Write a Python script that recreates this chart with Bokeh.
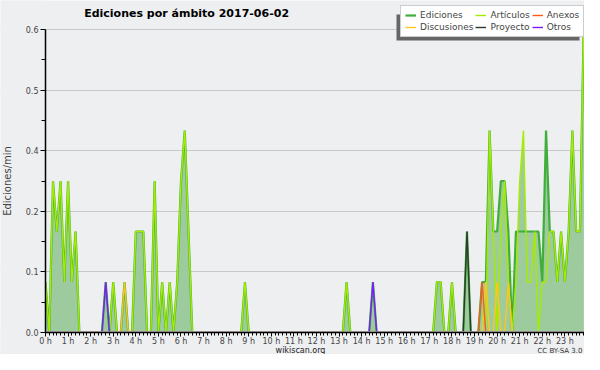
from bokeh.plotting import figure
from bokeh.models import (Range1d, FixedTicker, PrintfTickFormatter, Legend, LegendItem,
                          Label, BoxAnnotation)
from bokeh.embed import file_html
from bokeh.resources import INLINE

# ---- data: edits per minute in 10-minute bins (6 per hour), 2017-06-02 ----
BINS_PER_HOUR = 6

ediciones = [
    0.1, 0, 0.3, 0.2, 0.3, 0.1, 0.3, 0.1, 0.2, 0, 0, 0,          # 0h-2h
    0, 0, 0, 0, 0.1, 0, 0.1, 0, 0, 0.1, 0, 0,                    # 2h-4h
    0.2, 0.2, 0.2, 0, 0, 0.3, 0, 0.1, 0, 0.1, 0, 0.1,            # 4h-6h
    0.3, 0.4, 0.2, 0, 0, 0, 0, 0, 0, 0, 0, 0,                    # 6h-8h
    0, 0, 0, 0, 0, 0.1, 0, 0, 0, 0, 0, 0,                        # 8h-10h
    0, 0, 0, 0, 0, 0, 0, 0, 0, 0, 0, 0,                          # 10h-12h
    0, 0, 0, 0, 0, 0, 0, 0, 0.1, 0, 0, 0,                        # 12h-14h
    0, 0, 0, 0.1, 0, 0, 0, 0, 0, 0, 0, 0,                        # 14h-16h
    0, 0, 0, 0, 0, 0, 0, 0, 0.1, 0.1, 0, 0,                      # 16h-18h
    0.1, 0, 0, 0, 0.2, 0, 0, 0, 0.1, 0.1, 0.4, 0.2,              # 18h-20h
    0.2, 0.3, 0.3, 0.2, 0, 0.2, 0.2, 0.2, 0.2, 0.2, 0.2, 0.2,    # 20h-22h
    0.1, 0.4, 0.2, 0.2, 0.1, 0.2, 0.1, 0.2, 0.4, 0.2, 0.2, 0.6,  # 22h-24h
]

articulos = [
    0.1, 0, 0.3, 0.2, 0.3, 0.1, 0.3, 0.1, 0.2, 0, 0, 0,
    0, 0, 0, 0, 0, 0, 0.1, 0, 0, 0, 0, 0,
    0.2, 0.2, 0.2, 0, 0, 0.3, 0, 0.1, 0, 0.1, 0, 0.1,
    0.3, 0.4, 0.2, 0, 0, 0, 0, 0, 0, 0, 0, 0,
    0, 0, 0, 0, 0, 0.1, 0, 0, 0, 0, 0, 0,
    0, 0, 0, 0, 0, 0, 0, 0, 0, 0, 0, 0,
    0, 0, 0, 0, 0, 0, 0, 0, 0.1, 0, 0, 0,
    0, 0, 0, 0, 0, 0, 0, 0, 0, 0, 0, 0,
    0, 0, 0, 0, 0, 0, 0, 0, 0.1, 0.1, 0, 0,
    0.1, 0, 0, 0, 0, 0, 0, 0, 0, 0, 0.4, 0.2,
    0, 0.2, 0.3, 0.1, 0, 0.1, 0.3, 0.4, 0.1, 0.1, 0.2, 0,
    0.1, 0.1, 0.2, 0.2, 0.1, 0.2, 0.1, 0.2, 0.4, 0.2, 0.2, 0.6,
]

anexos = [
    0, 0, 0, 0, 0, 0, 0, 0, 0, 0, 0, 0,
    0, 0, 0, 0, 0, 0, 0, 0, 0, 0, 0, 0,
    0, 0, 0, 0, 0, 0, 0, 0, 0, 0, 0, 0,
    0, 0, 0, 0, 0, 0, 0, 0, 0, 0, 0, 0,
    0, 0, 0, 0, 0, 0, 0, 0, 0, 0, 0, 0,
    0, 0, 0, 0, 0, 0, 0, 0, 0, 0, 0, 0,
    0, 0, 0, 0, 0, 0, 0, 0, 0, 0, 0, 0,
    0, 0, 0, 0, 0, 0, 0, 0, 0, 0, 0, 0,
    0, 0, 0, 0, 0, 0, 0, 0, 0, 0, 0, 0,
    0, 0, 0, 0, 0, 0, 0, 0, 0.1, 0, 0, 0,
    0, 0, 0, 0, 0, 0, 0, 0, 0, 0, 0, 0,
    0, 0, 0, 0, 0, 0, 0, 0, 0, 0, 0, 0,
]

discusiones = [
    0, 0, 0, 0, 0, 0, 0, 0, 0, 0, 0, 0,
    0, 0, 0, 0, 0, 0, 0, 0, 0, 0.1, 0, 0,
    0, 0, 0, 0, 0, 0, 0, 0, 0, 0, 0, 0,
    0, 0, 0, 0, 0, 0, 0, 0, 0, 0, 0, 0,
    0, 0, 0, 0, 0, 0, 0, 0, 0, 0, 0, 0,
    0, 0, 0, 0, 0, 0, 0, 0, 0, 0, 0, 0,
    0, 0, 0, 0, 0, 0, 0, 0, 0, 0, 0, 0,
    0, 0, 0, 0, 0, 0, 0, 0, 0, 0, 0, 0,
    0, 0, 0, 0, 0, 0, 0, 0, 0, 0, 0, 0,
    0, 0, 0, 0, 0, 0, 0, 0, 0, 0.1, 0, 0,
    0.1, 0, 0, 0.1, 0, 0, 0, 0, 0, 0, 0, 0,
    0, 0, 0, 0, 0, 0, 0, 0, 0, 0, 0, 0,
]

proyecto = [
    0, 0, 0, 0, 0, 0, 0, 0, 0, 0, 0, 0,
    0, 0, 0, 0, 0, 0, 0, 0, 0, 0, 0, 0,
    0, 0, 0, 0, 0, 0, 0, 0, 0, 0, 0, 0,
    0, 0, 0, 0, 0, 0, 0, 0, 0, 0, 0, 0,
    0, 0, 0, 0, 0, 0, 0, 0, 0, 0, 0, 0,
    0, 0, 0, 0, 0, 0, 0, 0, 0, 0, 0, 0,
    0, 0, 0, 0, 0, 0, 0, 0, 0, 0, 0, 0,
    0, 0, 0, 0, 0, 0, 0, 0, 0, 0, 0, 0,
    0, 0, 0, 0, 0, 0, 0, 0, 0, 0, 0, 0,
    0, 0, 0, 0, 0.2, 0, 0, 0, 0, 0, 0, 0,
    0, 0, 0, 0, 0, 0, 0, 0, 0, 0, 0, 0,
    0, 0, 0, 0, 0, 0, 0, 0, 0, 0, 0, 0,
]

otros = [
    0, 0, 0, 0, 0, 0, 0, 0, 0, 0, 0, 0,
    0, 0, 0, 0, 0.1, 0, 0, 0, 0, 0, 0, 0,
    0, 0, 0, 0, 0, 0, 0, 0, 0, 0, 0, 0,
    0, 0, 0, 0, 0, 0, 0, 0, 0, 0, 0, 0,
    0, 0, 0, 0, 0, 0, 0, 0, 0, 0, 0, 0,
    0, 0, 0, 0, 0, 0, 0, 0, 0, 0, 0, 0,
    0, 0, 0, 0, 0, 0, 0, 0, 0, 0, 0, 0,
    0, 0, 0, 0.1, 0, 0, 0, 0, 0, 0, 0, 0,
    0, 0, 0, 0, 0, 0, 0, 0, 0, 0, 0, 0,
    0, 0, 0, 0, 0, 0, 0, 0, 0, 0, 0, 0,
    0, 0, 0, 0, 0, 0, 0, 0, 0, 0, 0, 0,
    0, 0, 0, 0, 0, 0, 0, 0, 0, 0, 0, 0,
]

hour_ticks = list(range(24))
y_ticks = [0, 0.12, 0.24, 0.36, 0.48, 0.6]
y_minor_ticks = [0.06, 0.18, 0.30, 0.42, 0.54]

title_text = "Ediciones por ámbito  2017-06-02"
y_label = "Ediciones/min"
source_text = "wikiscan.org"
license_text = "CC BY-SA 3.0"

# ---- styling ----
FONT = "DejaVu Sans"
BG = "#eeeff1"
FILL = "#9dcb9d"
C_ED = "#3fae3a"
C_ART = "#a6ec00"
C_ANX = "#ff5a1a"
C_DISC = "#ffc61a"
C_PROY = "#2e3a2e"
C_OTR = "#7a1cff"

W, H = 584, 354
LEFT = 45                  # pixel column of 0 h (the y axis)
X_END = 23.87              # hours shown up to the right edge
ZERO_PX, TOP_PX = 332, 29  # pixel rows of y=0 and y=0.6
px_per_unit = (ZERO_PX - TOP_PX) / y_ticks[-1]
y_lo = -(H - ZERO_PX) / px_per_unit
y_hi = y_ticks[-1] + TOP_PX / px_per_unit
px_per_hour = (W - LEFT) / X_END
x_lo = -LEFT / px_per_hour

hours = [i / BINS_PER_HOUR for i in range(len(ediciones))]
minor_ticks = [i / BINS_PER_HOUR for i in range(24 * BINS_PER_HOUR)]

p = figure(width=W, height=H, output_backend="svg", toolbar_location=None,
           x_range=Range1d(x_lo, X_END), y_range=Range1d(y_lo, y_hi),
           min_border=0,
           background_fill_color=BG, border_fill_color=BG,
           outline_line_color=None)

# axes (both pinned at 0 so the frame covers the whole canvas)
xa = p.xaxis[0]
xa.fixed_location = 0
xa.bounds = (0, X_END)
xa.ticker = FixedTicker(ticks=hour_ticks, minor_ticks=minor_ticks)
xa.formatter = PrintfTickFormatter(format="%d h")
xa.major_label_text_font = FONT
xa.major_label_text_font_size = "8px"
xa.major_label_standoff = 0
xa.major_tick_out = 4
xa.major_tick_in = 0
xa.minor_tick_out = 3
xa.minor_tick_in = 0
xa.axis_line_color = "black"
xa.axis_line_width = 1.5
xa.major_tick_line_color = "black"
xa.minor_tick_line_color = "black"

ya = p.yaxis[0]
ya.fixed_location = 0
ya.bounds = (y_ticks[0], y_ticks[-1])
ya.ticker = FixedTicker(ticks=y_ticks, minor_ticks=y_minor_ticks)
ya.formatter = PrintfTickFormatter(format="%.1f")
ya.major_label_text_font = FONT
ya.major_label_text_font_size = "8px"
ya.major_label_standoff = 2
ya.major_tick_out = 5
ya.major_tick_in = 0
ya.minor_tick_out = 4
ya.minor_tick_in = 0
ya.axis_label = y_label
ya.axis_label_text_font = FONT
ya.axis_label_text_font_size = "10px"
ya.axis_label_text_font_style = "normal"
ya.axis_label_standoff = 10
ya.axis_line_color = "black"
ya.axis_line_width = 1.5
ya.major_tick_line_color = "black"
ya.minor_tick_line_color = "black"

p.xgrid.visible = False
p.ygrid.grid_line_color = "#c8c8c8"

# areas
p.varea(x=hours, y1=0, y2=ediciones, fill_color=FILL)
p.varea(x=hours, y1=0, y2=articulos, fill_color=FILL)

# lines
r_ed = p.line(hours, ediciones, line_color=C_ED, line_width=2.2)
r_art = p.line(hours, articulos, line_color=C_ART, line_width=1.4)
r_disc = p.line(hours, discusiones, line_color=C_DISC, line_width=1.4)
r_anx = p.line(hours, anexos, line_color=C_ANX, line_width=1.4)
r_proy = p.line(hours, proyecto, line_color=C_PROY, line_width=1.4)
r_otr = p.line(hours, otros, line_color=C_OTR, line_width=1.4)

# masks: below the baseline and left of the y axis (drawn above glyphs/grid, below axes)
p.add_layout(BoxAnnotation(top=0.002, fill_color=BG, fill_alpha=1,
                           line_color=None, level="glyph"))
p.add_layout(BoxAnnotation(right=0, fill_color=BG, fill_alpha=1,
                           line_color=None, level="glyph"))

# legend shadow + legend (screen units relative to the frame's bottom-left)
shadow = BoxAnnotation(left=396, right=579, bottom=314, top=340,
                       left_units="screen", right_units="screen",
                       top_units="screen", bottom_units="screen",
                       fill_color="#666666", fill_alpha=1, line_color=None)
p.add_layout(shadow)

legend = Legend(items=[
    LegendItem(label="Ediciones", renderers=[r_ed]),
    LegendItem(label="Discusiones", renderers=[r_disc]),
    LegendItem(label="Artículos", renderers=[r_art]),
    LegendItem(label="Proyecto", renderers=[r_proy]),
    LegendItem(label="Anexos", renderers=[r_anx]),
    LegendItem(label="Otros", renderers=[r_otr]),
], location=(400, 317), orientation="vertical", nrows=2,
    label_text_font=FONT, label_text_font_size="9px",
    label_height=8, glyph_height=8, glyph_width=11, label_standoff=4,
    spacing=2, padding=4, margin=0,
    border_line_color="#999999", background_fill_color="white", background_fill_alpha=1)
p.add_layout(legend)

# texts
p.add_layout(Label(x=188, y=341, x_units="screen", y_units="screen", text=title_text,
                   text_font=FONT, text_font_style="bold", text_font_size="11px",
                   text_align="center", text_baseline="middle", text_color="black"))
p.add_layout(Label(x=300, y=4, x_units="screen", y_units="screen", text=source_text,
                   text_font=FONT, text_font_size="8px",
                   text_align="center", text_baseline="middle", text_color="#222222"))
p.add_layout(Label(x=582, y=4, x_units="screen", y_units="screen", text=license_text,
                   text_font=FONT, text_font_size="7px",
                   text_align="right", text_baseline="middle", text_color="#333333"))

open("out.html", "w").write(file_html(p, INLINE))
